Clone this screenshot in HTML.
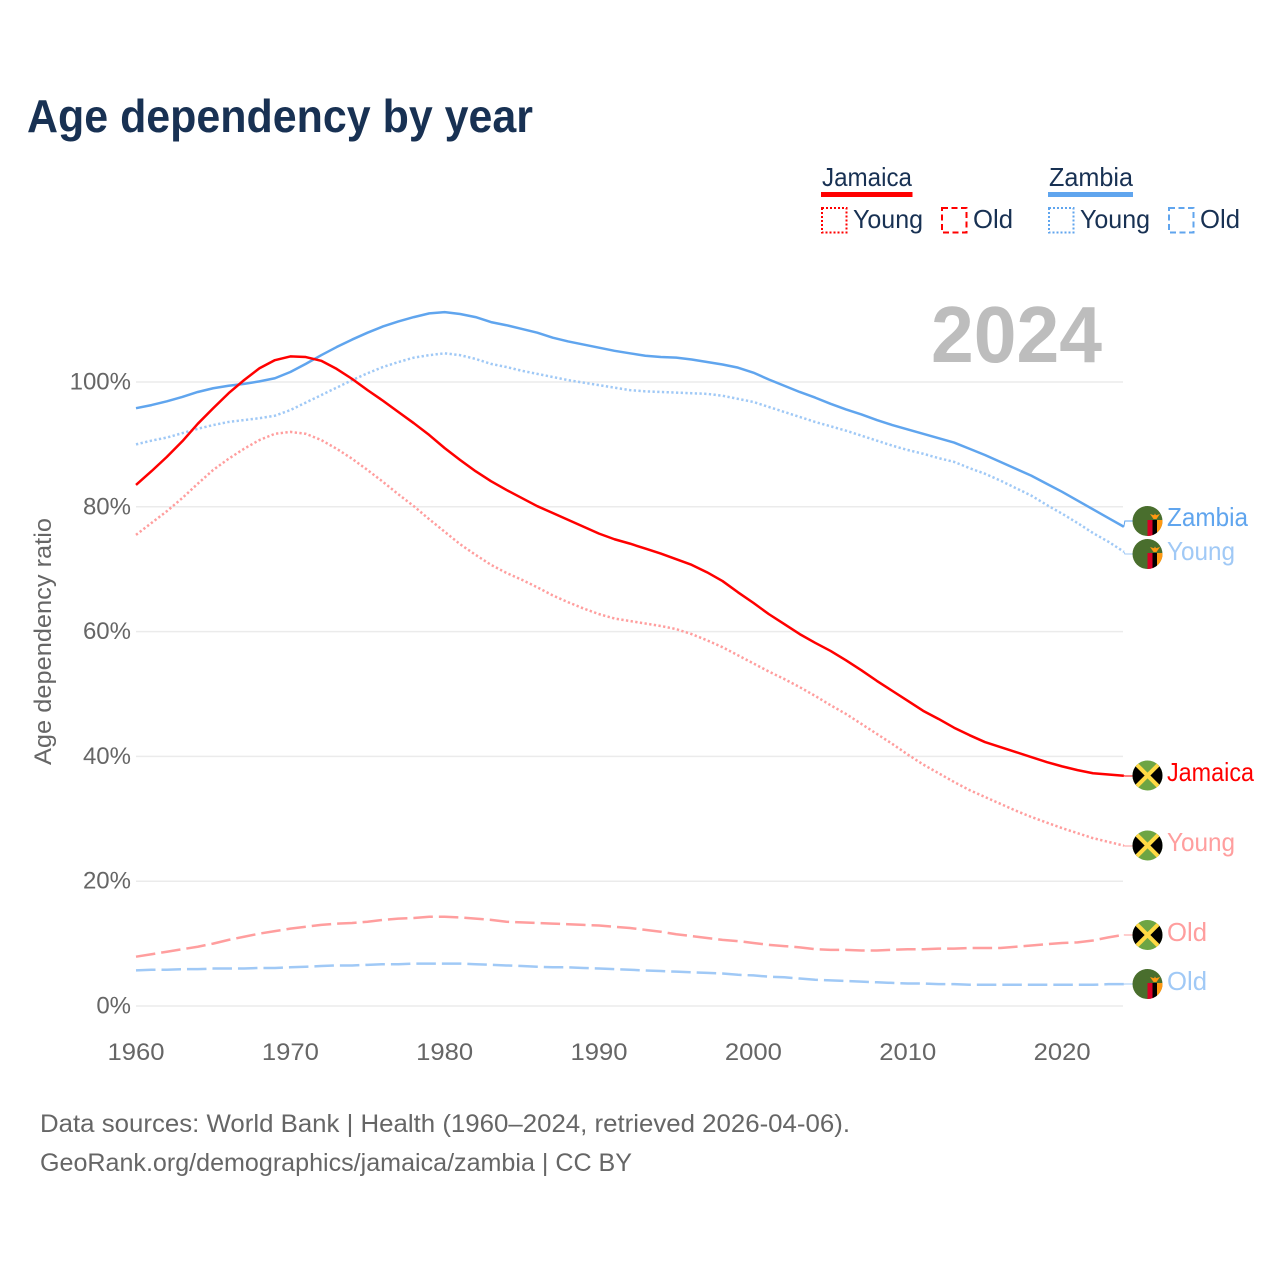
<!DOCTYPE html>
<html lang="en">
<head>
<meta charset="utf-8">
<title>Age dependency by year</title>
<style>
html,body{margin:0;padding:0;background:#fff;width:1280px;height:1280px;overflow:hidden}
svg{display:block;font-family:"Liberation Sans",sans-serif}
</style>
</head>
<body>
<svg id="chart" xmlns="http://www.w3.org/2000/svg" width="1280" height="1280" viewBox="0 0 1280 1280">
<defs>
<clipPath id="flag-clip"><circle cx="0" cy="0" r="15"/></clipPath>
<g id="flag-jm" clip-path="url(#flag-clip)">
<rect x="-15" y="-15" width="30" height="30" fill="#6da544"/>
<path d="M-15-15L0 0L-15 15Z M15-15L0 0L15 15Z" fill="#000"/>
<path d="M-14-14L14 14M14-14L-14 14" stroke="#ffda44" stroke-width="4"/>
</g>
<g id="flag-zm" clip-path="url(#flag-clip)">
<rect x="-15" y="-15" width="30" height="30" fill="#496e2d"/>
<rect x="0" y="-1" width="5" height="17" fill="#d80027"/>
<rect x="5" y="-1" width="4.500" height="17" fill="#000"/>
<rect x="9.500" y="-1" width="5.500" height="17" fill="#ff9811"/>
<path d="M2.500-7L6.500-5.800L7.500-7.500L8.500-5.800L12.500-7L10-3.500L9-2H6L5-3.500Z" fill="#ff9811"/>
</g>
</defs>
<text x="27" y="132" font-size="46" font-weight="700" fill="#183153" textLength="506" lengthAdjust="spacingAndGlyphs">Age dependency by year</text>

<g fill="#183153" font-size="26">
<text x="822" y="186" textLength="90" lengthAdjust="spacingAndGlyphs">Jamaica</text>
<rect x="821" y="192" width="91.500" height="5" fill="#ff0000"/>
<rect x="822" y="208" width="24.500" height="24.500" fill="none" stroke="#ff0000" stroke-width="2" stroke-dasharray="2 2"/>
<text x="853" y="228" textLength="70" lengthAdjust="spacingAndGlyphs">Young</text>
<rect x="942" y="208" width="24.500" height="24.500" fill="none" stroke="#ff0000" stroke-width="2" stroke-dasharray="6 3.500"/>
<text x="973" y="228" textLength="40" lengthAdjust="spacingAndGlyphs">Old</text>
<text x="1049" y="186" textLength="84" lengthAdjust="spacingAndGlyphs">Zambia</text>
<rect x="1048" y="192" width="85" height="5" fill="#60a5ee"/>
<rect x="1049" y="208" width="24.500" height="24.500" fill="none" stroke="#60a5ee" stroke-width="2" stroke-dasharray="2 2"/>
<text x="1080" y="228" textLength="70" lengthAdjust="spacingAndGlyphs">Young</text>
<rect x="1169" y="208" width="24.500" height="24.500" fill="none" stroke="#60a5ee" stroke-width="2" stroke-dasharray="6 3.500"/>
<text x="1200" y="228" textLength="40" lengthAdjust="spacingAndGlyphs">Old</text>
</g>

<g id="grid"></g>
<text x="931" y="362" font-size="80" font-weight="700" fill="#bdbdbd" textLength="171" lengthAdjust="spacingAndGlyphs">2024</text>
<g id="y-ticks"></g>
<g id="x-ticks"></g>
<text transform="translate(51,765) rotate(-90)" font-size="24" fill="#666" textLength="247" lengthAdjust="spacingAndGlyphs">Age dependency ratio</text>
<g id="series"></g>

<g font-size="26">
<use href="#flag-zm" x="1147.500" y="521"/>
<text x="1167" y="526" fill="#60a5ee" textLength="81" lengthAdjust="spacingAndGlyphs">Zambia</text>
<use href="#flag-zm" x="1147.500" y="554"/>
<text x="1167" y="560" fill="#a0c9f6" textLength="68" lengthAdjust="spacingAndGlyphs">Young</text>
<use href="#flag-jm" x="1147.500" y="775.500"/>
<text x="1167" y="781" fill="#ff0000" textLength="87" lengthAdjust="spacingAndGlyphs">Jamaica</text>
<use href="#flag-jm" x="1147.500" y="845.500"/>
<text x="1167" y="851" fill="#ff9e9e" textLength="68" lengthAdjust="spacingAndGlyphs">Young</text>
<use href="#flag-jm" x="1147.500" y="935"/>
<text x="1167" y="941" fill="#ff9e9e" textLength="40" lengthAdjust="spacingAndGlyphs">Old</text>
<use href="#flag-zm" x="1147.500" y="984"/>
<text x="1167" y="990" fill="#a0c9f6" textLength="40" lengthAdjust="spacingAndGlyphs">Old</text>
</g>

<g font-size="25" fill="#666">
<text x="40" y="1132" textLength="810" lengthAdjust="spacingAndGlyphs">Data sources: World Bank | Health (1960–2024, retrieved 2026-04-06).</text>
<text x="40" y="1171" textLength="592" lengthAdjust="spacingAndGlyphs">GeoRank.org/demographics/jamaica/zambia | CC BY</text>
</g>
</svg>
<script>
const firstYear = 1960;
const yTickValues = [0, 20, 40, 60, 80, 100];
const xTickValues = [1960, 1970, 1980, 1990, 2000, 2010, 2020];
const jamaicaTotal = [83.5,85.7,88,90.5,93.3,95.8,98.2,100.3,102.2,103.5,104.1,104,103.4,102.1,100.5,98.7,97,95.2,93.4,91.5,89.4,87.5,85.7,84.1,82.7,81.4,80.1,79,77.9,76.8,75.7,74.8,74.1,73.3,72.5,71.6,70.7,69.5,68.1,66.3,64.6,62.8,61.2,59.6,58.2,56.9,55.4,53.8,52.1,50.5,48.9,47.3,46,44.6,43.4,42.3,41.5,40.7,39.9,39.1,38.4,37.8,37.3,37.1,36.9];
const jamaicaYoung = [75.5,77.4,79.3,81.4,83.7,85.9,87.7,89.3,90.7,91.7,92,91.7,90.7,89.3,87.7,85.9,84,82,80.1,78,76,74,72.3,70.7,69.4,68.3,67.1,65.8,64.7,63.7,62.8,62.1,61.7,61.3,60.9,60.4,59.6,58.6,57.5,56.2,54.9,53.6,52.4,51.1,49.7,48.2,46.8,45.2,43.6,42,40.3,38.7,37.3,35.9,34.6,33.5,32.4,31.3,30.3,29.4,28.5,27.7,26.9,26.3,25.7];
const jamaicaOld = [7.9,8.3,8.7,9.1,9.5,10,10.6,11.1,11.6,12,12.4,12.7,13,13.2,13.3,13.5,13.8,14,14.1,14.3,14.3,14.2,14,13.8,13.5,13.4,13.3,13.2,13.1,13,12.9,12.7,12.5,12.2,11.9,11.5,11.2,10.9,10.6,10.4,10.1,9.8,9.6,9.4,9.1,9,9,8.9,8.9,9,9.1,9.1,9.2,9.2,9.3,9.3,9.3,9.5,9.7,9.9,10.1,10.2,10.5,11,11.4];
const zambiaTotal = [95.8,96.3,96.9,97.6,98.4,99,99.4,99.7,100.1,100.6,101.6,102.9,104.3,105.6,106.8,107.9,108.9,109.7,110.4,111,111.2,110.9,110.4,109.6,109.1,108.5,107.9,107.1,106.5,106,105.5,105,104.6,104.2,104,103.9,103.6,103.2,102.8,102.3,101.5,100.4,99.4,98.4,97.5,96.5,95.6,94.8,93.9,93.1,92.4,91.7,91,90.3,89.3,88.3,87.2,86.1,85,83.7,82.4,81,79.6,78.2,76.8];
const zambiaYoung = [90,90.6,91.1,91.8,92.5,93.1,93.6,93.9,94.2,94.6,95.5,96.7,97.9,99.1,100.3,101.4,102.4,103.2,103.9,104.3,104.6,104.3,103.7,102.9,102.4,101.8,101.3,100.8,100.3,99.9,99.5,99.1,98.7,98.5,98.4,98.3,98.2,98.1,97.8,97.3,96.8,96,95.2,94.4,93.6,92.9,92.2,91.4,90.6,89.8,89.1,88.5,87.8,87.2,86.2,85.3,84.2,83,81.8,80.3,78.9,77.4,75.8,74.4,72.8];
const zambiaOld = [5.7,5.8,5.8,5.9,5.9,6,6,6,6.1,6.1,6.2,6.3,6.4,6.5,6.5,6.6,6.7,6.7,6.8,6.8,6.8,6.8,6.7,6.6,6.5,6.4,6.3,6.2,6.2,6.1,6,5.9,5.8,5.7,5.6,5.5,5.4,5.3,5.2,5,4.9,4.7,4.6,4.4,4.2,4.1,4,3.9,3.8,3.7,3.6,3.6,3.5,3.5,3.4,3.4,3.4,3.4,3.4,3.4,3.4,3.4,3.4,3.5,3.5];

const NS = 'http://www.w3.org/2000/svg';
const xScale = year => 136 + (year - 1960) * 15.435;
const yScale = pct => 1006 - pct * 6.24;

const gridGroup = document.getElementById('grid');
const yTickGroup = document.getElementById('y-ticks');
yTickValues.forEach(v => {
  const line = document.createElementNS(NS, 'line');
  
  
  line.setAttribute('x1', 136);
  line.setAttribute('x2', 1123);
  line.setAttribute('y1', yScale(v));
  line.setAttribute('y2', yScale(v));
  line.setAttribute('stroke', '#ebebeb');
  line.setAttribute('stroke-width', '1.5');
  gridGroup.appendChild(line);
  const label = document.createElementNS(NS, 'text');
  
  
  label.setAttribute('x', 131);
  label.setAttribute('y', yScale(v) + 7.500);
  label.setAttribute('text-anchor', 'end');
  label.setAttribute('font-size', '24');
  label.setAttribute('fill', '#666');
  label.textContent = v + '%';
  yTickGroup.appendChild(label);
});

const xTickGroup = document.getElementById('x-ticks');
xTickValues.forEach(v => {
  const label = document.createElementNS(NS, 'text');
  
  
  label.setAttribute('x', xScale(v) - 28.500);
  label.setAttribute('y', 1060);
  label.setAttribute('font-size', '24');
  label.setAttribute('fill', '#666');
  label.setAttribute('textLength', '57');
  label.setAttribute('lengthAdjust', 'spacingAndGlyphs');
  label.textContent = v;
  xTickGroup.appendChild(label);
});

const seriesGroup = document.getElementById('series');
function drawSeries(name, values, color, dash, labelY) {
  const pts = values.map((v, i) => xScale(firstYear + i).toFixed(2) + ',' + yScale(v).toFixed(2));
  const endX = xScale(firstYear + values.length - 1);
  const leader = document.createElementNS(NS, 'polyline');
  
  
  leader.setAttribute('points', endX.toFixed(2) + ',' + yScale(values[values.length - 1]).toFixed(2) + ' ' + (endX + 1).toFixed(2) + ',' + labelY + ' 1133,' + labelY);
  leader.setAttribute('fill', 'none');
  leader.setAttribute('stroke', color);
  leader.setAttribute('stroke-width', '1');
  seriesGroup.appendChild(leader);
  const line = document.createElementNS(NS, 'polyline');
  
  
  line.setAttribute('points', pts.join(' '));
  line.setAttribute('fill', 'none');
  line.setAttribute('stroke', color);
  line.setAttribute('stroke-width', '2.5');
  line.setAttribute('stroke-linejoin', 'round');
  if (dash) line.setAttribute('stroke-dasharray', dash);
  seriesGroup.appendChild(line);
}
drawSeries('jamaica-old', jamaicaOld, '#ff9e9e', '19.5 6', 935);
drawSeries('zambia-old', zambiaOld, '#a0c9f6', '19.5 6', 984);
drawSeries('jamaica-young', jamaicaYoung, '#ff9e9e', '2.3 2.4', 846);
drawSeries('zambia-young', zambiaYoung, '#a0c9f6', '2.3 2.4', 554);
drawSeries('zambia-total', zambiaTotal, '#60a5ee', '', 521);
drawSeries('jamaica-total', jamaicaTotal, '#ff0000', '', 776);
</script>
</body>
</html>
